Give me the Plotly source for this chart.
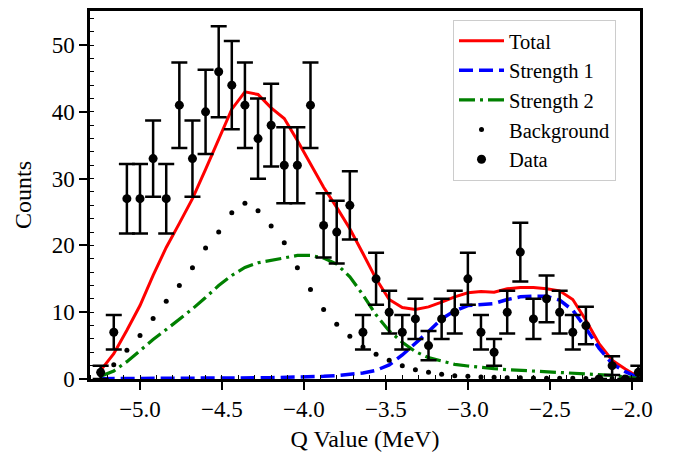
import plotly.graph_objects as go

# Q values (MeV) of the bins
q_values = [-5.24, -5.16, -5.08, -5.00, -4.92, -4.84, -4.76, -4.68, -4.60, -4.52,
            -4.44, -4.36, -4.28, -4.20, -4.12, -4.04, -3.96, -3.88, -3.80, -3.72,
            -3.64, -3.56, -3.48, -3.40, -3.32, -3.24, -3.16, -3.08, -3.00, -2.92,
            -2.84, -2.76, -2.68, -2.60, -2.52, -2.44, -2.36, -2.28, -2.20, -2.12,
            -2.04, -1.96]

counts = [1, 7, 27, 27, 33, 27, 41, 33, 40, 46,
          44, 41, 36, 38, 32, 32, 41, 23, 22, 26,
          7, 15, 10, 7, 9, 5, 9, 10, 15, 7,
          4, 10, 19, 9, 12, 10, 7, 8, 0, 2,
          0, 1]

count_errors = [1.0, 2.6, 5.2, 5.2, 5.7, 5.2, 6.4, 5.7, 6.3, 6.8,
                6.6, 6.4, 6.0, 6.2, 5.7, 5.7, 6.4, 4.8, 4.7, 5.1,
                2.6, 3.9, 3.2, 2.6, 3.0, 2.2, 3.0, 3.2, 3.9, 2.6,
                2.0, 3.2, 4.4, 3.0, 3.5, 3.2, 2.6, 2.8, 0.0, 1.4,
                0.0, 1.0]

total_fit = [1.3, 3.8, 7.3, 11.0, 15.5, 19.7, 23.3, 27.0, 31.4, 35.9,
             40.4, 43.0, 42.6, 40.6, 39.0, 35.7, 32.2, 28.7, 25.7, 22.5,
             18.8, 15.0, 11.9, 10.7, 10.4, 10.8, 11.5, 12.3, 12.9, 13.1,
             13.0, 13.5, 13.7, 13.7, 13.5, 13.2, 11.9, 8.8, 5.3, 2.8,
             1.5, 0.3]

strength1 = [0.05, 0.05, 0.05, 0.06, 0.06, 0.07, 0.08, 0.09, 0.1, 0.12,
             0.14, 0.16, 0.18, 0.2, 0.23, 0.27, 0.32, 0.4, 0.5, 0.65,
             0.9, 1.3, 2.1, 3.6, 5.3, 7.1, 9.0, 10.2, 11.0, 11.2,
             11.3, 11.9, 12.3, 12.4, 12.4, 11.8, 10.3, 7.6, 4.6, 2.3,
             1.1, 0.2]

strength2 = [0.4, 1.2, 2.6, 4.3, 5.9, 7.4, 8.9, 10.5, 12.2, 14.0,
             15.5, 16.7, 17.4, 17.8, 18.2, 18.5, 18.5, 18.1, 17.2, 15.3,
             12.6, 9.6, 7.2, 5.5, 4.1, 3.2, 2.7, 2.2, 1.95, 1.7,
             1.55, 1.4, 1.3, 1.2, 1.1, 1.0, 0.9, 0.8, 0.65, 0.55,
             0.3, 0.1]

background = [0.6, 2.15, 4.3, 6.5, 9.07, 11.66, 14.0, 16.65, 19.6, 22.0,
              24.9, 26.3, 25.2, 22.9, 20.4, 16.65, 13.4, 10.4, 8.2, 6.4,
              4.8, 3.7, 2.8, 2.0, 1.4, 1.0, 0.7, 0.5, 0.4, 0.3,
              0.25, 0.2, 0.18, 0.15, 0.13, 0.12, 0.1, 0.08, 0.07, 0.06,
              0.05, 0.04]

x_ticks = [-5.0, -4.5, -4.0, -3.5, -3.0, -2.5, -2.0]
y_ticks = [0, 10, 20, 30, 40, 50]

FONT = "Liberation Serif, Times New Roman, serif"

fig = go.Figure()
fig.add_trace(go.Scatter(x=q_values, y=total_fit, mode="lines", name="Total",
                         line=dict(color="#ff0000", width=3)))
fig.add_trace(go.Scatter(x=q_values, y=strength1, mode="lines", name="Strength 1",
                         line=dict(color="#0000ff", width=3.5, dash="14px,6px")))
fig.add_trace(go.Scatter(x=q_values, y=strength2, mode="lines", name="Strength 2",
                         line=dict(color="#008000", width=3.2, dash="16px,5px,3px,5px")))
fig.add_trace(go.Scatter(x=q_values, y=background, mode="markers", name="Background",
                         marker=dict(color="black", size=5)))
fig.add_trace(go.Scatter(x=q_values, y=counts, mode="markers", name="Data",
                         marker=dict(color="black", size=9),
                         error_y=dict(type="data", array=count_errors, visible=True,
                                      color="black", thickness=2.5, width=8)))

axis_common = dict(
    showline=True, linecolor="black", linewidth=2.5, mirror=True,
    showgrid=False, zeroline=False, automargin=False,
    ticks="outside", ticklen=8, tickwidth=2, tickcolor="black",
    tickfont=dict(family=FONT, size=23, color="black"),
)

fig.update_xaxes(
    range=[-5.305, -1.95], tickvals=x_ticks, tickformat=".1f",
    title=dict(text="Q Value (MeV)", font=dict(family=FONT, size=24, color="black"), standoff=10),
    minor=dict(ticks="inside", dtick=0.1, tick0=-5.0, ticklen=4, tickwidth=1, tickcolor="black"),
    **axis_common,
)
fig.update_yaxes(
    range=[0, 55.1], tickvals=y_ticks,
    title=dict(text="Counts", font=dict(family=FONT, size=24, color="black"), standoff=14),
    minor=dict(ticks="inside", dtick=2, tick0=0, ticklen=4, tickwidth=1, tickcolor="black"),
    **axis_common,
)

fig.update_layout(
    width=682, height=452,
    margin=dict(l=90, r=42, t=11, b=73),
    paper_bgcolor="white", plot_bgcolor="white",
    font=dict(family=FONT, size=20.5, color="black"),
    legend=dict(x=0.66, y=0.976, xanchor="left", yanchor="top",
                bgcolor="rgba(255,255,255,0.8)", bordercolor="#cccccc", borderwidth=1,
                font=dict(family=FONT, size=20.5, color="black"),
                tracegroupgap=0, itemwidth=45),
    showlegend=True,
)

fig.write_html("out.html")
